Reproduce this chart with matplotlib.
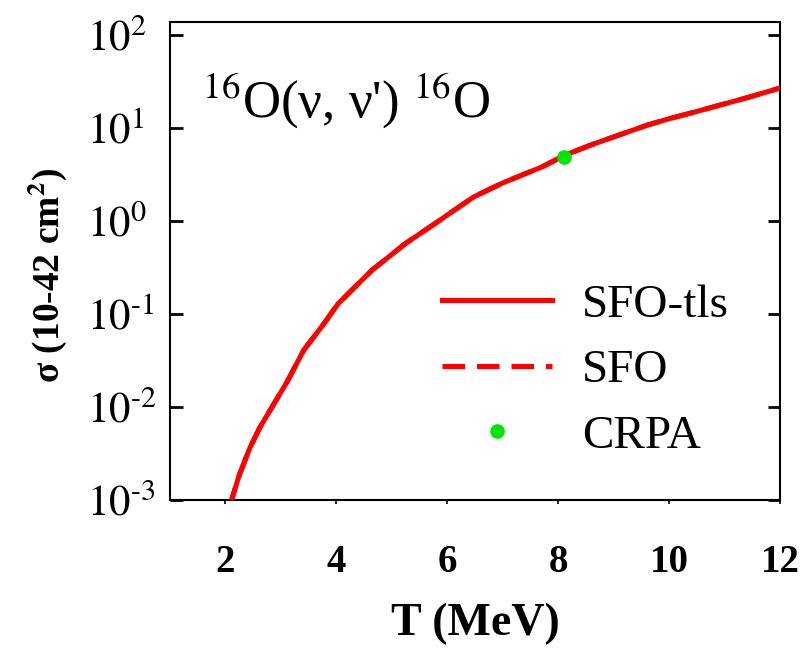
import matplotlib
matplotlib.use("Agg")
import matplotlib.pyplot as plt

# Data
T_sfo_tls = [2.05, 2.11, 2.25, 2.44, 2.62, 2.81, 3.12, 3.41, 3.78, 4.03, 4.35, 4.64,
             5.25, 5.87, 6.11, 6.48, 7.0, 7.33, 7.7, 8.13, 8.6, 9.17, 9.6, 10.0,
             10.45, 11.0, 11.43, 12.0]
logsig_sfo_tls = [-3.1, -3.0, -2.73, -2.44, -2.22, -2.03, -1.72, -1.39, -1.10, -0.89, -0.70, -0.53,
                  -0.24, 0.01, 0.11, 0.26, 0.41, 0.49, 0.58, 0.71, 0.82, 0.94, 1.03, 1.10,
                  1.17, 1.26, 1.33, 1.43]
sig_sfo_tls = [10 ** v for v in logsig_sfo_tls]
# SFO coincides with SFO-tls in the picture
T_sfo = T_sfo_tls
sig_sfo = sig_sfo_tls
T_crpa = [8.1]
sig_crpa = [4.9]

xticks = [2, 4, 6, 8, 10, 12]
yticks = [1e-3, 1e-2, 1e-1, 1e0, 1e1, 1e2]
ytick_labels = [r"$10^{\text{-3}}$", r"$10^{\text{-2}}$", r"$10^{\text{-1}}$",
                r"$10^{0}$", r"$10^{1}$", r"$10^{2}$"]

plt.rcParams['font.family'] = ['Liberation Serif', 'DejaVu Serif']
plt.rcParams['mathtext.fontset'] = 'stix'

fig = plt.figure(figsize=(8.04, 6.52), dpi=100)
ax = fig.add_axes([170/804, 1-500/652, 610/804, 478/652])

red = '#ff0000'
green = '#00e600'
ax.plot(T_sfo, sig_sfo, color=red, lw=3.6, ls=(0, (4.5, 2.4)), label='SFO', zorder=2)
ax.plot(T_sfo_tls, sig_sfo_tls, color=red, lw=3.6, label='SFO-tls', zorder=3)
ax.plot(T_crpa, sig_crpa, 'o', color=green, ms=9.5, label='CRPA', zorder=4)

ax.set_yscale('log')
ax.set_xlim(1, 12)
ax.set_ylim(1e-3, 10 ** 2.14)
ax.set_xticks(xticks)
ax.set_xticklabels([str(t) for t in xticks], fontsize=28, fontweight='bold')
ax.set_yticks(yticks)
ax.set_yticklabels(ytick_labels, fontsize=31, ha='left')
ax.yaxis.set_minor_locator(matplotlib.ticker.NullLocator())
ax.tick_params(axis='y', which='major', direction='in', length=9, width=2, pad=60,
               left=True, right=True)
ax.tick_params(axis='x', which='major', direction='out', length=3, width=1.2, pad=29)
for s in ax.spines.values():
    s.set_linewidth(1.5)

ax.set_xlabel('T (MeV)', fontsize=33, fontweight='bold')
ax.xaxis.set_label_coords(0.5, -0.215)
ax.set_ylabel(r'σ (10-42 cm$^{\mathbf{2}}$)', fontsize=27, fontweight='bold')
ax.yaxis.set_label_coords(-0.165, 0.47)

ax.text(0.052, 0.799, r"$^{16}$O(ν, ν') $^{16}$O", transform=ax.transAxes,
        fontsize=38, ha='left', va='baseline')

h, l = ax.get_legend_handles_labels()
order = [1, 0, 2]
leg = ax.legend([h[i] for i in order], [l[i] for i in order], loc='upper left',
                bbox_to_anchor=(0.446, 0.453), frameon=False, fontsize=34,
                handlelength=2.33, handletextpad=0.64, labelspacing=0.48,
                borderaxespad=0, borderpad=0, numpoints=1)

fig.savefig('out.png', dpi=100)
